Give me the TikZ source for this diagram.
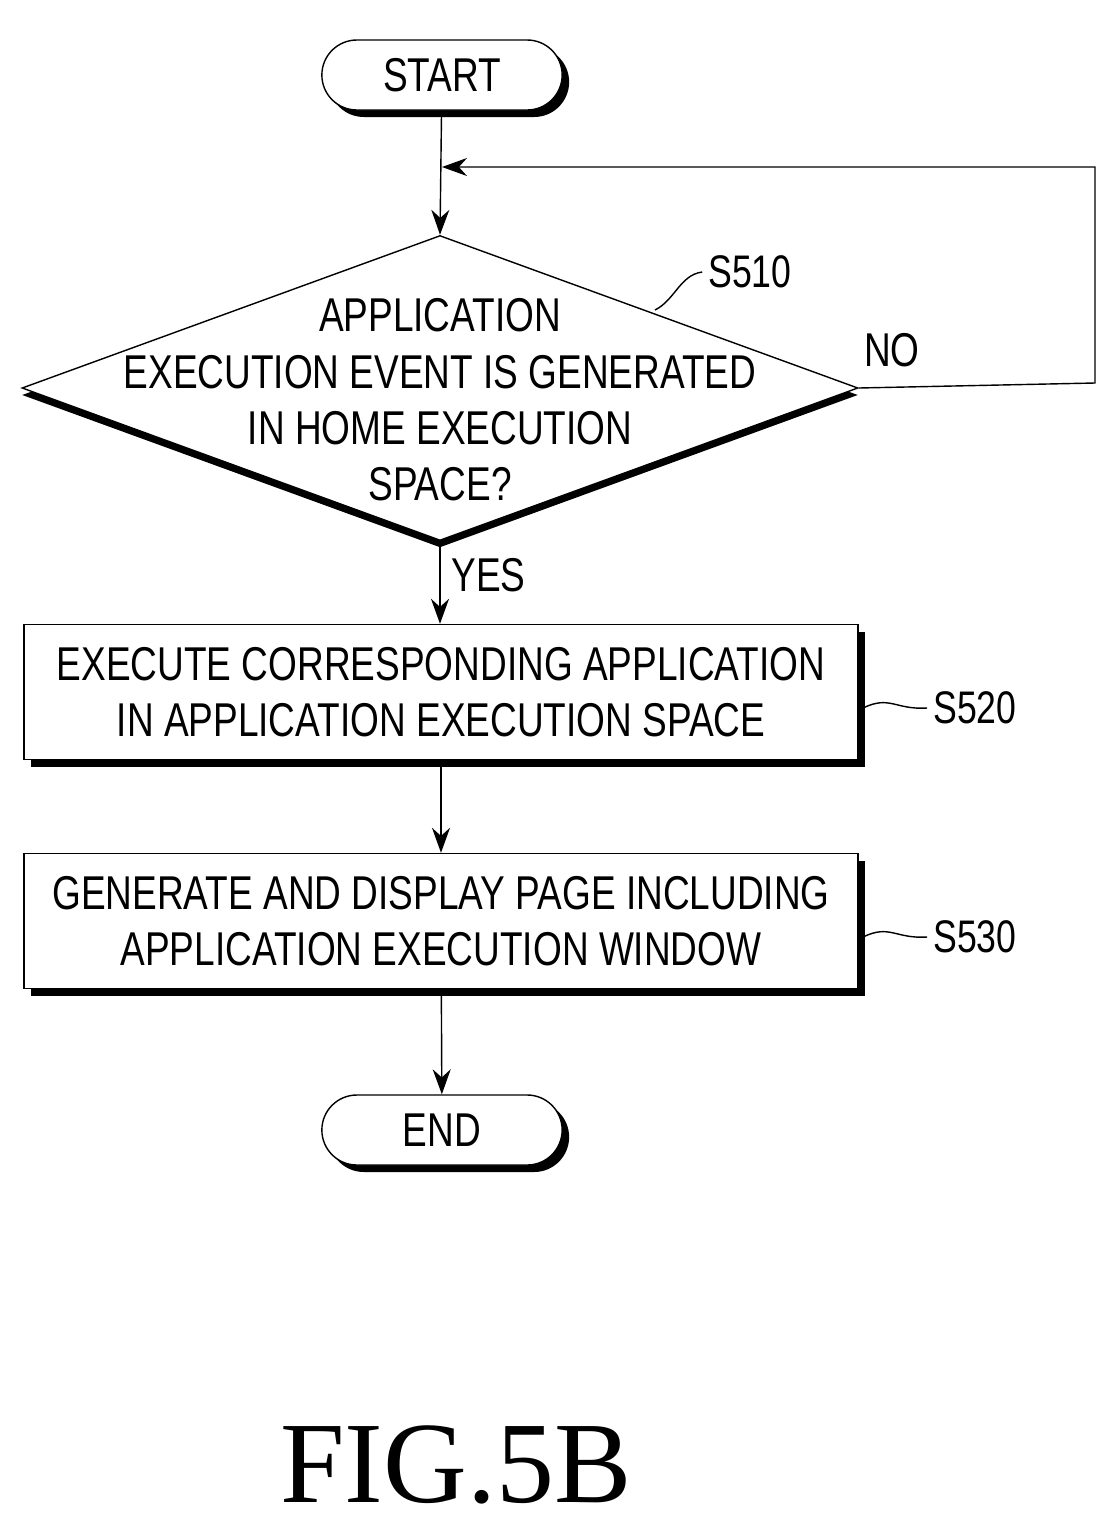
\documentclass[tikz,border=0pt]{standalone}
\usepackage{fontspec}
\setmainfont{Liberation Sans}[FakeStretch=0.78]
\newfontfamily\figfont{Liberation Serif}
\usetikzlibrary{shapes.geometric, shapes.misc, shadows, arrows.meta, positioning}

\tikzset{
  shade box/.style = {draw, thick, fill=white, drop shadow={shadow xshift=0.14cm, shadow yshift=-0.14cm, fill=black, opacity=1}},
  terminal/.style = {shade box, rounded rectangle, minimum width=5.04cm, minimum height=1.4cm},
  action/.style = {shade box, rectangle, minimum width=16.68cm, minimum height=2.7cm, align=center},
  flow/.style = {thick, -{Stealth[length=0.5cm, width=0.36cm]}},
  tag/.style = {font=\fontsize{26pt}{28pt}\selectfont}
}

\begin{document}
\begin{tikzpicture}[font=\fontsize{27pt}{32pt}\selectfont]
	\useasboundingbox (0,0) rectangle (22.34,-30.62);
	\node[terminal] (start) at (8.84,-1.5) {START};
	\node[draw, thick, fill=white, diamond, minimum width=16.72cm, minimum height=6.1cm, inner sep=0pt,
	      drop shadow={shadow xshift=0cm, shadow yshift=-0.14cm, fill=black, opacity=1}] (check) at (8.8,-7.76) {};
	\node[align=center] (check-text) at (8.8,-8.0) {APPLICATION\\EXECUTION EVENT IS GENERATED\\IN HOME EXECUTION\\SPACE?};
	\node[action] (exec) at (8.82,-13.84) {EXECUTE CORRESPONDING APPLICATION\\IN APPLICATION EXECUTION SPACE};
	\node[action] (show) at (8.82,-18.42) {GENERATE AND DISPLAY PAGE INCLUDING\\APPLICATION EXECUTION WINDOW};
	\node[terminal] (end) at (8.84,-22.6) {END};
	\node[font=\figfont\fontsize{66pt}{70pt}\selectfont] (fig) at (9.12,-29.3) {FIG.5B};
	% step tags
	\node[tag] (s510) at (15.0,-5.44) {S510};
	\node[tag] (s520) at (19.5,-14.16) {S520};
	\node[tag] (s530) at (19.5,-18.74) {S530};
	\draw[thick] (13.1,-6.2) .. controls (13.5,-6.0) and (13.6,-5.5) .. (s510.west);
	\draw[thick] (17.26,-14.16) .. controls (17.8,-13.9) and (17.9,-14.2) .. (s520.west);
	\draw[thick] (17.26,-18.74) .. controls (17.8,-18.48) and (17.9,-18.78) .. (s530.west);
	% connectors
	\coordinate (loop-right) at (21.9,-7.66);
	\coordinate (loop-top) at (21.9,-3.34);
	\draw[flow] (start) -- (check.north);
	\draw[flow] (check.east) -- (loop-right) -- (loop-top) -- (8.84,-3.34);
	\node (no) at (17.84,-7.0) {NO};
	\draw[flow] (check.south) -- node[right, xshift=0.1cm, yshift=0.15cm] {YES} (exec.north -| check.south);
	\draw[flow] (exec) -- (show);
	\draw[flow] (show) -- (end);
\end{tikzpicture}
\end{document}
